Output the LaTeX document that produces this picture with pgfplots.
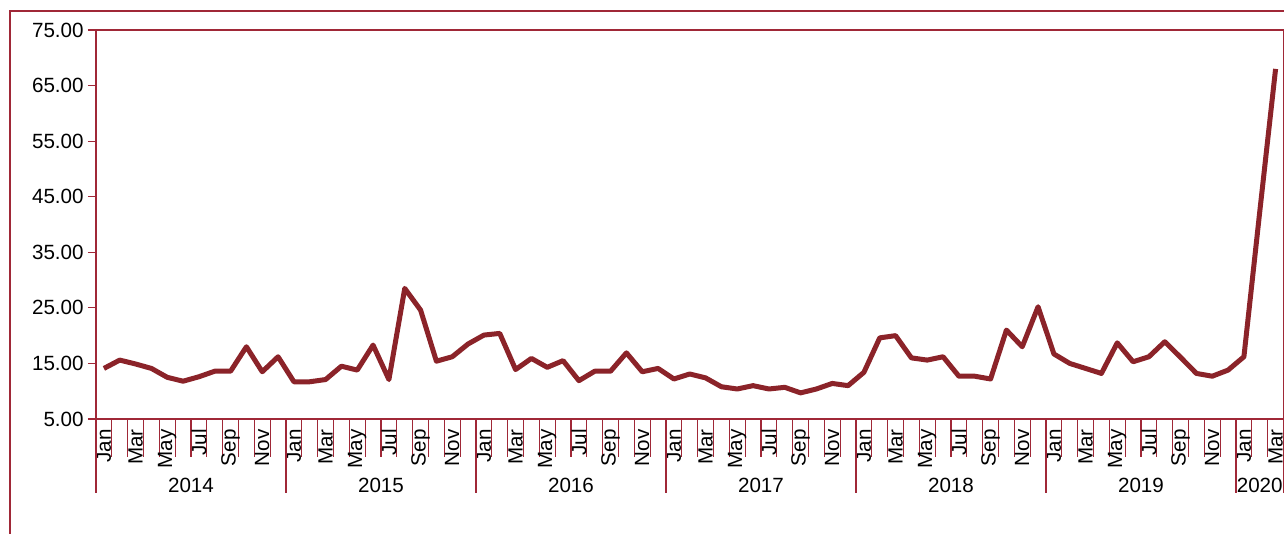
\documentclass[border=0pt]{standalone}
\usepackage{pgfplots}
\pgfplotsset{compat=1.18}
\usepackage{fontspec}
\setmainfont{Liberation Sans}
\definecolor{lineRed}{RGB}{139,35,41}
\definecolor{axisRed}{RGB}{160,40,55}
\begin{document}
\begin{tikzpicture}
\useasboundingbox (-48pt,-57.5pt) rectangle (594pt,209.5pt);
\clip (-48pt,-57.5pt) rectangle (594pt,209.5pt);
\draw[axisRed, line width=1pt] (-43pt,-80pt) -- (-43pt,204pt) -- (700pt,204pt);
\begin{axis}[
  at={(0pt,0pt)}, anchor=south west,
  scale only axis,
  width=593.75pt, height=194.5pt,
  xmin=-0.5, xmax=74.5,
  ymin=5, ymax=75,
  ytick={5,15,...,75},
  yticklabel style={/pgf/number format/fixed, /pgf/number format/fixed zerofill, /pgf/number format/precision=2, /pgf/number format/assume math mode=true, font=\fontsize{10.3}{12}\selectfont, inner xsep=2pt},
  axis line style={axisRed, line width=0.6pt},
  tick align=outside,
  xtick pos=bottom, ytick pos=left,
  major tick length=4pt,
  y tick style={axisRed, line width=0.6pt},
  xtick={0,2,...,74},
  xticklabels={Jan,Mar,May,Jul,Sep,Nov,Jan,Mar,May,Jul,Sep,Nov,Jan,Mar,May,Jul,Sep,Nov,Jan,Mar,May,Jul,Sep,Nov,Jan,Mar,May,Jul,Sep,Nov,Jan,Mar,May,Jul,Sep,Nov,Jan,Mar},
  xticklabel style={rotate=90, anchor=east, inner sep=1pt, font=\fontsize{10.3}{12}\selectfont},
  major x tick style={draw=none},
  minor xtick={-0.5,0.5,...,74.5},
  minor tick length=19pt,
  minor x tick style={axisRed, line width=0.6pt},
  extra x ticks={-0.5,11.5,23.5,35.5,47.5,59.5,71.5,74.5},
  extra x tick labels={},
  extra x tick style={major tick length=37pt, major x tick style={draw=axisRed, line width=0.6pt}},
  clip=false,
]
\addplot[lineRed, line width=2.5pt, line join=round, mark=none] coordinates {
(0,14.1)(1,15.6)(2,14.9)(3,14.1)(4,12.5)(5,11.8)(6,12.6)(7,13.6)(8,13.6)(9,18.0)(10,13.5)(11,16.2)
(12,11.7)(13,11.7)(14,12.1)(15,14.5)(16,13.8)(17,18.3)(18,12.1)(19,28.5)(20,24.6)(21,15.4)(22,16.2)(23,18.5)
(24,20.1)(25,20.4)(26,13.9)(27,15.9)(28,14.3)(29,15.5)(30,11.9)(31,13.6)(32,13.6)(33,16.9)(34,13.5)(35,14.1)
(36,12.2)(37,13.1)(38,12.4)(39,10.8)(40,10.4)(41,11.0)(42,10.4)(43,10.7)(44,9.7)(45,10.4)(46,11.4)(47,11.0)
(48,13.4)(49,19.6)(50,20.0)(51,16.0)(52,15.6)(53,16.2)(54,12.7)(55,12.7)(56,12.2)(57,21.0)(58,18.0)(59,25.2)
(60,16.7)(61,15.0)(62,14.1)(63,13.2)(64,18.7)(65,15.3)(66,16.2)(67,18.9)(68,16.1)(69,13.2)(70,12.7)(71,13.8)
(72,16.2)(73,42.3)(74,68.0)
};
\foreach \yr/\xc in {2014/5.5,2015/17.5,2016/29.5,2017/41.5,2018/53.5,2019/65.5,2020/73} {
  \edef\tmp{\noexpand\node[font=\noexpand\fontsize{10.3}{12}\noexpand\selectfont, anchor=center] at (axis cs:\xc,5) [yshift=-33pt] {\yr};}
  \tmp
}
\end{axis}
\end{tikzpicture}
\end{document}
